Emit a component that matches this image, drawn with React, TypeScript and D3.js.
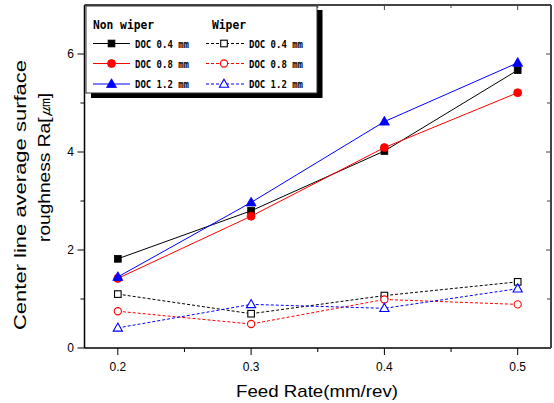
import React from "react";
import * as d3 from "d3";

const feedRates = [0.2, 0.3, 0.4, 0.5];
const nonWiper04 = [1.82, 2.8, 4.02, 5.67];
const nonWiper08 = [1.42, 2.69, 4.09, 5.21];
const nonWiper12 = [1.45, 2.97, 4.62, 5.82];
const wiper04 = [1.1, 0.7, 1.07, 1.35];
const wiper08 = [0.75, 0.49, 0.99, 0.89];
const wiper12 = [0.41, 0.89, 0.81, 1.21];
const xTicks = [0.2, 0.3, 0.4, 0.5];
const xMinor = [0.25, 0.35, 0.45];
const yTicks = [0, 2, 4, 6];
const yMinor = [1, 3, 5];

type Series = { name: string; values: number[]; color: string; marker: "square" | "circle" | "triangle"; filled: boolean };

const series: Series[] = [
  { name: "DOC 0.4 mm", values: nonWiper04, color: "#000000", marker: "square", filled: true },
  { name: "DOC 0.8 mm", values: nonWiper08, color: "#ff0000", marker: "circle", filled: true },
  { name: "DOC 1.2 mm", values: nonWiper12, color: "#0000ff", marker: "triangle", filled: true },
  { name: "DOC 0.4 mm", values: wiper04, color: "#000000", marker: "square", filled: false },
  { name: "DOC 0.8 mm", values: wiper08, color: "#ff0000", marker: "circle", filled: false },
  { name: "DOC 1.2 mm", values: wiper12, color: "#0000ff", marker: "triangle", filled: false },
];

function Marker({ x, y, s }: { x: number; y: number; s: Series }) {
  const fill = s.filled ? s.color : "#ffffff";
  const sw = s.filled ? 0.8 : 1.1;
  if (s.marker === "square") {
    const h = s.filled ? 3.4 : 3.3;
    return <rect x={x - h} y={y - h} width={2 * h} height={2 * h} fill={fill} stroke={s.color} strokeWidth={sw} />;
  }
  if (s.marker === "circle") {
    return <circle cx={x} cy={y} r={s.filled ? 4 : 3.6} fill={fill} stroke={s.color} strokeWidth={sw} />;
  }
  const r = s.filled ? 5 : 4.6;
  const pts = [
    [x, y - r * 1.05],
    [x + r, y + r * 0.7],
    [x - r, y + r * 0.7],
  ];
  return <polygon points={pts.map((p) => p.join(",")).join(" ")} fill={fill} stroke={s.color} strokeWidth={sw} />;
}

export default function App() {
  const W = 554;
  const H = 403;
  const left = 84.5;
  const right = 551;
  const top = 5;
  const bottom = 348;
  const x = d3.scaleLinear().domain([0.175, 0.525]).range([left, right]);
  const y = d3.scaleLinear().domain([0, 7]).range([bottom, top]);
  const line = d3
    .line<number>()
    .x((_, i) => x(feedRates[i]))
    .y((d) => y(d));

  const legendRows = [43.5, 63.5, 84];
  const monoFont = "'DejaVu Sans Mono', monospace";
  const sans = "'Liberation Sans', Arial, sans-serif";

  return (
    <svg width={W} height={H} style={{ position: "absolute", left: 0, top: 0, background: "#fff" }}>
      <rect x={0} y={0} width={W} height={H} fill="#fff" />
      {series.map((s, si) => (
        <g key={si}>
          <path
            d={line(s.values) || ""}
            fill="none"
            stroke={s.color}
            strokeWidth={1}
            strokeDasharray={s.filled ? undefined : "3,2"}
          />
          {s.values.map((v, i) => (
            <Marker key={i} x={x(feedRates[i])} y={y(v)} s={s} />
          ))}
        </g>
      ))}
      <line x1={left} x2={left} y1={top} y2={bottom} stroke="#000" strokeWidth={1.5} />
      <line x1={left} x2={right} y1={bottom} y2={bottom} stroke="#000" strokeWidth={1.5} />
      <line x1={left} x2={right} y1={top} y2={top} stroke="#444" strokeWidth={2} />
      <line x1={right} x2={right} y1={top} y2={bottom} stroke="#444" strokeWidth={2} />
      {xTicks.map((t) => (
        <g key={"xt" + t}>
          <line x1={x(t)} x2={x(t)} y1={bottom} y2={bottom + 7} stroke="#000" strokeWidth={1} />
          <line x1={x(t)} x2={x(t)} y1={top} y2={top + 5} stroke="#444" strokeWidth={1} />
          <text x={x(t)} y={371} textAnchor="middle" fontFamily={sans} fontSize={12} fill="#000">
            {d3.format(".1f")(t)}
          </text>
        </g>
      ))}
      {xMinor.map((t) => (
        <g key={"xm" + t}>
          <line x1={x(t)} x2={x(t)} y1={bottom} y2={bottom + 4} stroke="#000" strokeWidth={1} />
          <line x1={x(t)} x2={x(t)} y1={top} y2={top + 3} stroke="#444" strokeWidth={1} />
        </g>
      ))}
      {yTicks.map((t) => (
        <g key={"yt" + t}>
          <line x1={left - 7} x2={left} y1={y(t)} y2={y(t)} stroke="#000" strokeWidth={1} />
          <line x1={right - 5} x2={right} y1={y(t)} y2={y(t)} stroke="#444" strokeWidth={1} />
          <text x={74} y={y(t) + 4.2} textAnchor="end" fontFamily={sans} fontSize={12} fill="#000">
            {t}
          </text>
        </g>
      ))}
      {yMinor.map((t) => (
        <g key={"ym" + t}>
          <line x1={left - 4} x2={left} y1={y(t)} y2={y(t)} stroke="#000" strokeWidth={1} />
          <line x1={right - 4} x2={right} y1={y(t)} y2={y(t)} stroke="#444" strokeWidth={1} />
        </g>
      ))}
      <text x={317} y={397} textAnchor="middle" fontFamily={sans} fontSize={17} fill="#000" textLength={162} lengthAdjust="spacingAndGlyphs">
        Feed Rate(mm/rev)
      </text>
      <text
        transform="translate(26,195) rotate(-90)"
        textAnchor="middle"
        fontFamily={sans}
        fontSize={17}
        fill="#000"
        textLength={270}
        lengthAdjust="spacingAndGlyphs"
      >
        Center line average surface
      </text>
      <text
        transform="translate(50,167.5) rotate(-90)"
        textAnchor="middle"
        fontFamily={sans}
        fontSize={17}
        fill="#000"
        textLength={149}
        lengthAdjust="spacingAndGlyphs"
      >
        roughness Ra[㎛]
      </text>
      <rect x={91} y={10} width={231.5} height={88} fill="#000" />
      <rect x={86} y={6} width={231} height={87} fill="#fff" stroke="#333" strokeWidth={1} />
      <text x={93} y={29} fontFamily={monoFont} fontWeight="bold" fontSize={12} fill="#000" textLength={61} lengthAdjust="spacingAndGlyphs">
        Non wiper
      </text>
      <text x={212} y={29} fontFamily={monoFont} fontWeight="bold" fontSize={12} fill="#000" textLength={34} lengthAdjust="spacingAndGlyphs">
        Wiper
      </text>
      {series.map((s, i) => {
        const row = legendRows[i % 3];
        const x0 = i < 3 ? 93 : 206;
        const x1 = i < 3 ? 130 : 245;
        const mx = i < 3 ? 111.5 : 224;
        const tx = i < 3 ? 135 : 249;
        return (
          <g key={"lg" + i}>
            <line x1={x0} x2={x1} y1={row} y2={row} stroke={s.color} strokeWidth={1} strokeDasharray={s.filled ? undefined : "3,2"} />
            <Marker x={mx} y={row} s={s} />
            <text x={tx} y={row + 4} fontFamily={monoFont} fontWeight="bold" fontSize={10} fill="#000" textLength={54} lengthAdjust="spacingAndGlyphs">
              {s.name}
            </text>
          </g>
        );
      })}
    </svg>
  );
}
